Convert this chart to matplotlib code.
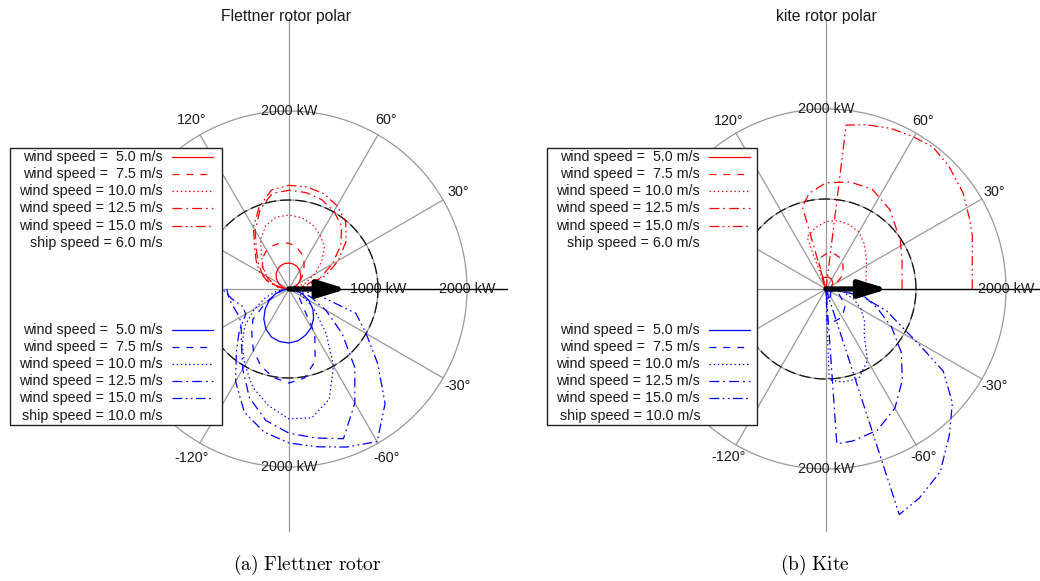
import numpy as np
import matplotlib.pyplot as plt

plt.rcParams['font.family'] = ['Liberation Sans', 'DejaVu Sans']
plt.rcParams['mathtext.fontset'] = 'cm'
plt.rcParams['lines.scale_dashes'] = False

W, H = 1040, 581

# legend text
wind_speeds = [' 5.0', ' 7.5', '10.0', '12.5', '15.0']
ship_speeds = ['6.0', '10.0']

# ---- Flettner rotor power (kW) vs. apparent wind angle (deg) ----
# upper half: ship speed 6 m/s, lower half: ship speed 10 m/s
fl_ang_up = np.arange(0, 181, 10)
fl_ang_dn = -np.arange(0, 181, 10)

fl_red_5 = [0, 30, 75, 120, 165, 205, 240, 268, 284, 292, 290, 278, 255, 225, 185, 140, 95, 50, 12]
fl_red_75 = [0, 25, 60, 110, 180, 260, 340, 420, 480, 515, 525, 520, 500, 460, 390, 300, 200, 100, 20]
fl_red_10 = [0, 70, 200, 330, 480, 620, 700, 770, 815, 830, 820, 760, 640, 480, 380, 290, 200, 100, 20]
fl_red_125 = [0, 150, 380, 560, 760, 920, 1010, 1070, 1100, 1110, 1090, 950, 760, 570, 450, 350, 240, 120, 20]
fl_red_15 = [0, 180, 440, 640, 840, 990, 1080, 1140, 1165, 1165, 1130, 980, 800, 600, 480, 380, 260, 130, 20]

fl_blue_5 = [0, 70, 160, 260, 350, 430, 500, 550, 590, 607, 600, 575, 520, 440, 350, 255, 165, 80, 15]
fl_blue_75 = [0, 20, 50, 90, 150, 230, 580, 860, 1015, 1056, 1010, 920, 800, 650, 530, 300, 150, 60, 15]
fl_blue_10 = [0, 40, 110, 200, 380, 650, 1000, 1320, 1470, 1460, 1330, 1180, 990, 820, 650, 450, 280, 140, 30]
fl_blue_125 = [0, 100, 260, 480, 780, 1150, 1480, 1790, 1700, 1620, 1500, 1300, 1040, 830, 700, 640, 650, 680, 700]
fl_blue_15 = [0, 300, 800, 1000, 1300, 1680, 1980, 1890, 1800, 1730, 1630, 1470, 1200, 920, 730, 560, 560, 650, 750]

# ---- Kite power (kW) vs. apparent wind angle (deg) ----
kt_red_5_ang = [0, 20, 40, 60, 80, 100, 110, 111]
kt_red_5 = [0, 60, 100, 125, 135, 130, 110, 0]
kt_red_75_ang = [0, 20, 40, 60, 75, 90, 105, 108]
kt_red_75 = [0, 100, 250, 370, 400, 390, 340, 0]
kt_red_10_ang = [0, 10, 20, 30, 40, 50, 60, 70, 80, 90, 100, 110, 111]
kt_red_10 = [445, 452, 475, 520, 580, 660, 730, 760, 772, 750, 690, 615, 0]
kt_red_125_ang = [0, 10, 21, 33, 51, 65, 77, 90, 100, 106, 108]
kt_red_125 = [845, 858, 905, 985, 1130, 1220, 1220, 1180, 1080, 950, 0]
kt_red_15_ang = [0, 10, 20, 26, 35, 45, 53, 60, 68, 76, 83, 84]
kt_red_15 = [1625, 1650, 1730, 1775, 1860, 1930, 1975, 1950, 1925, 1880, 1835, 0]

kt_blue_5_ang = [0, -30, -60, -85, -89]
kt_blue_5 = [0, 60, 100, 110, 0]
kt_blue_75_ang = [0, -20, -40, -60, -80, -88, -89]
kt_blue_75 = [0, 150, 280, 360, 380, 370, 0]
kt_blue_10_ang = [0, -10, -20, -30, -40, -50, -60, -70, -80, -88, -89]
kt_blue_10 = [0, 190, 330, 450, 560, 660, 920, 1060, 1050, 1010, 0]
kt_blue_125_ang = [0, -10, -20, -30, -40, -50, -60, -70, -80, -86, -87]
kt_blue_125 = [0, 420, 600, 840, 1090, 1320, 1530, 1670, 1715, 1725, 0]
kt_blue_15_ang = [0, -10, -20, -25, -31, -35, -42, -50, -58, -66, -72, -74]
kt_blue_15 = [0, 380, 720, 880, 1220, 1590, 1890, 2130, 2395, 2545, 2635, 0]

# ship speed arrow length (kW scale)
ship_arrow = [650, 690]

line_styles = ['-', (0, (5, 5)), (0, (1, 2)), (0, (7, 3, 1.2, 3)),
               (0, (7, 2.5, 1.2, 2.5, 1.2, 2.5))]
GRID = '#999999'
TXT = '#1a1a1a'


def polar_axes(cx, cy, scale, rmax=3100):
    """Place a polar axes so that the origin lands at pixel (cx, cy)."""
    rad = rmax * scale
    ax = fig.add_axes([(cx - rad) / W, (H - cy - rad) / H, 2 * rad / W, 2 * rad / H],
                      projection='polar')
    ax.set_rlim(0, rmax)
    ax.set_axis_off()
    ax.patch.set_alpha(0)
    return ax


def draw_frame(ax, top, bottom, right, lab_r, inner_label):
    t = np.linspace(0, 2 * np.pi, 361)
    # axis lines
    ax.plot([np.pi / 2] * 2, [0, top], color=GRID, lw=0.9)
    ax.plot([-np.pi / 2] * 2, [0, bottom], color=GRID, lw=0.9)
    ax.plot([np.pi] * 2, [0, right], color=GRID, lw=0.9)
    # spokes every 30 deg
    for a in [30, 60, 120, 150, -30, -60, -120, -150]:
        ax.plot([np.deg2rad(a)] * 2, [0, 2000], color=GRID, lw=0.9)
    # range rings
    ax.plot(t, np.full_like(t, 2000), color=GRID, lw=0.9)
    ax.plot(t, np.full_like(t, 1000), color=GRID, lw=0.9)
    ax.plot(t, np.full_like(t, 1000), color='#111111', lw=0.9, ls=(0, (8, 3)))
    ax.plot([0, 0], [0, right], color='black', lw=1.0)
    # angle labels (the ones on the left side sit under the legend box)
    for a in [30, 60, 120, -30, -60, -120]:
        ax.text(np.deg2rad(a), lab_r, f'{a}°', ha='center', va='center',
                fontsize=10.3, color=TXT)
    ax.text(np.pi / 2, 2000, '2000 kW', ha='center', va='center', fontsize=10.3, color=TXT)
    ax.text(-np.pi / 2, 2000, '2000 kW', ha='center', va='center', fontsize=10.3, color=TXT)
    ax.text(0, 2000, '2000 kW', ha='center', va='center', fontsize=10.3, color=TXT)
    if inner_label:
        ax.text(0, 1000, '1000 kW', ha='center', va='center', fontsize=10.3, color=TXT)


def draw_curves(ax, series, color):
    for (ang, vals), ls in zip(series, line_styles):
        ax.plot(np.deg2rad(ang), vals, color=color, lw=0.9, ls=ls)


def draw_arrow(ax, length):
    ax.annotate('', xy=(0, length), xytext=(0, 0),
                arrowprops=dict(arrowstyle='-|>,head_length=0.85,head_width=0.26',
                                lw=3.8, color='black', shrinkA=0, shrinkB=0,
                                mutation_scale=20))


fig = plt.figure(figsize=(W / 100, H / 100), dpi=100)

# (a) Flettner rotor
ax1 = polar_axes(289, 289, 0.089)
draw_frame(ax1, 3045, 2720, 2450, 2190, True)
draw_curves(ax1, [(fl_ang_up, fl_red_5), (fl_ang_up, fl_red_75), (fl_ang_up, fl_red_10),
                  (fl_ang_up, fl_red_125), (fl_ang_up, fl_red_15)], 'red')
draw_curves(ax1, [(fl_ang_dn, fl_blue_5), (fl_ang_dn, fl_blue_75), (fl_ang_dn, fl_blue_10),
                  (fl_ang_dn, fl_blue_125), (fl_ang_dn, fl_blue_15)], 'blue')
draw_arrow(ax1, ship_arrow[0])

# (b) Kite
ax2 = polar_axes(826, 289, 0.09)
draw_frame(ax2, 3010, 2690, 2430, 2160, False)
draw_curves(ax2, [(kt_red_5_ang, kt_red_5), (kt_red_75_ang, kt_red_75),
                  (kt_red_10_ang, kt_red_10), (kt_red_125_ang, kt_red_125),
                  (kt_red_15_ang, kt_red_15)], 'red')
draw_curves(ax2, [(kt_blue_5_ang, kt_blue_5), (kt_blue_75_ang, kt_blue_75),
                  (kt_blue_10_ang, kt_blue_10), (kt_blue_125_ang, kt_blue_125),
                  (kt_blue_15_ang, kt_blue_15)], 'blue')
draw_arrow(ax2, ship_arrow[1])

# overlay in pixel units for legends, titles and captions
ov = fig.add_axes([0, 0, 1, 1])
ov.set_xlim(0, W)
ov.set_ylim(H, 0)
ov.set_axis_off()
ov.patch.set_alpha(0)
ov.set_zorder(10)

rows_red = [157, 174, 191, 208, 226, 243]
rows_blue = [330, 347, 364, 381, 398, 416]
for x0, x1, text_right in [(10, 222, 163), (547, 757, 700)]:
    ov.add_patch(plt.Rectangle((x0, 148), x1 - x0, 277, facecolor='white',
                               edgecolor='#222222', lw=1.0))
    for rows, color, ship in [(rows_red, 'red', ship_speeds[0]),
                              (rows_blue, 'blue', ship_speeds[1])]:
        for y, ws, ls in zip(rows, wind_speeds, line_styles):
            ov.text(text_right, y, f'wind speed = {ws} m/s', ha='right', va='center',
                    fontsize=10.3, color=TXT)
            ov.plot([text_right + 9, text_right + 50], [y, y], color=color, lw=0.9, ls=ls)
        ov.text(text_right, rows[5], f'ship speed = {ship} m/s', ha='right', va='center',
                fontsize=10.3, color=TXT)

ov.text(286, 17, 'Flettner rotor polar', ha='center', va='center', fontsize=11.3, color=TXT)
ov.text(826, 17, 'kite rotor polar', ha='center', va='center', fontsize=11.3, color=TXT)
ov.text(307, 565, r'$\mathrm{(a)\ Flettner\ rotor}$', ha='center', va='center', fontsize=14)
ov.text(815, 565, r'$\mathrm{(b)\ Kite}$', ha='center', va='center', fontsize=14)

fig.savefig('out.png', dpi=100)
